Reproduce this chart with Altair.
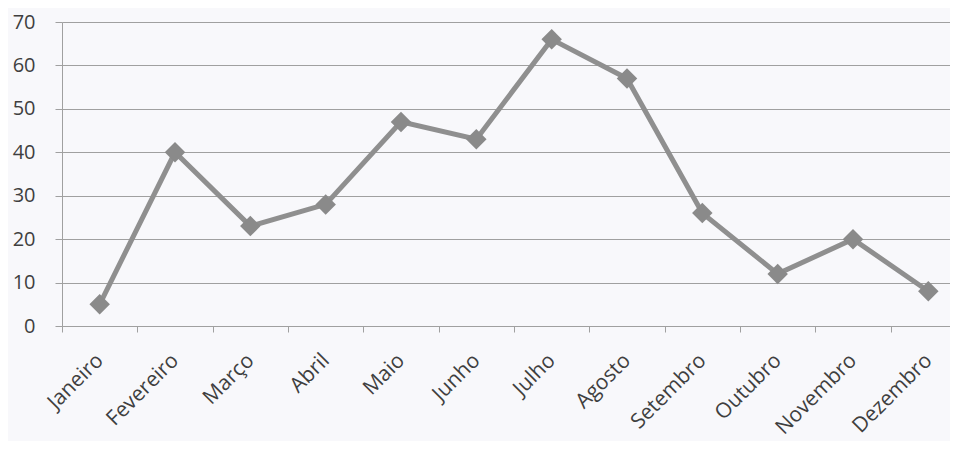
import altair as alt
import pandas as pd

months = ["Janeiro", "Fevereiro", "Março", "Abril", "Maio", "Junho",
          "Julho", "Agosto", "Setembro", "Outubro", "Novembro", "Dezembro"]
values = [5, 40, 23, 28, 47, 43, 66, 57, 26, 12, 20, 8]
y_ticks = [0, 10, 20, 30, 40, 50, 60, 70]

df = pd.DataFrame({"mes": months, "valor": values})

FONT = "Open Sans"
LABEL = "#3f3f3f"
GRID = "#a0a0a0"

x = alt.X(
    "mes:N", sort=months, title=None,
    scale=alt.Scale(type="band", range=[0, 904], paddingInner=0, paddingOuter=0),
    axis=alt.Axis(
        labelAngle=-45, labelFont=FONT, labelFontSize=21, labelColor=LABEL,
        labelPadding=25, tickBand="extent", tickSize=6, tickColor=GRID,
        domainColor=GRID, domainWidth=1, grid=False, labelAlign="right",
        labelBaseline="middle",
    ),
)
y = alt.Y(
    "valor:Q", title=None,
    scale=alt.Scale(domain=[0, 70], nice=False),
    axis=alt.Axis(
        values=y_ticks, labelFont=FONT, labelFontSize=20, labelColor=LABEL,
        labelPadding=20, tickSize=7, tickColor=GRID, domainColor=GRID,
        gridColor=GRID, gridWidth=1, gridOpacity=1,
    ),
)

line = alt.Chart(df).mark_line(color="#8f8f8f", strokeWidth=5).encode(x=x, y=y)
pts = alt.Chart(df).mark_point(shape="diamond", filled=True, size=420,
                               color="#8a8a8a", opacity=1).encode(x=x, y=y)

chart = (line + pts).properties(
    width=888, height=304,
    autosize=alt.AutoSizeParams(type="none"),
    padding={"left": 54, "top": 14, "right": 0, "bottom": 115},
    background="#f8f8fb",
).configure_view(stroke=None)

chart.save("out.html", embed_options={"renderer": "svg", "actions": False})
